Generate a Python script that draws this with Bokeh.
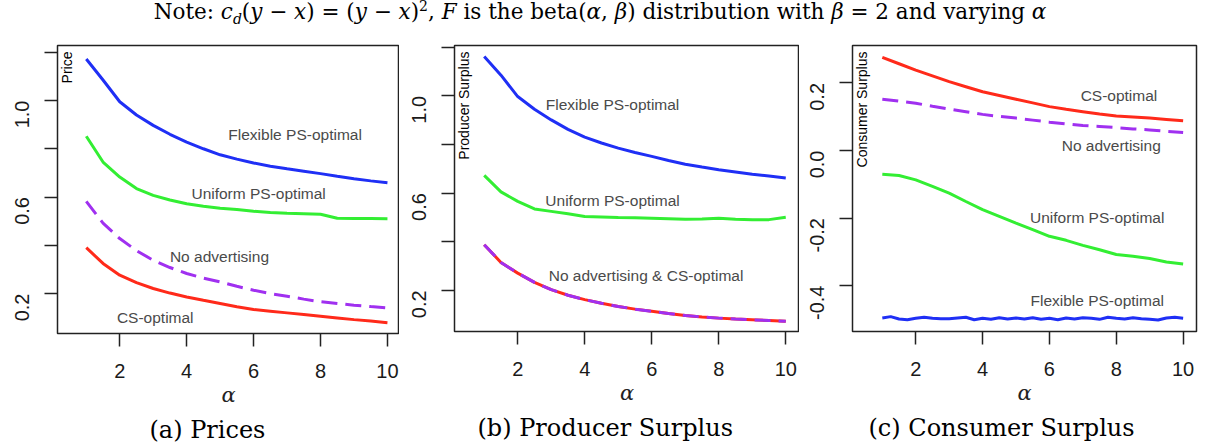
import math
from bokeh.plotting import figure
from bokeh.layouts import row, column
from bokeh.models import Div, FixedTicker, Label, Title
from bokeh.core.properties import value
from bokeh.embed import file_html
from bokeh.resources import INLINE

# ---------------- data ----------------
alpha = [1, 1.5, 2, 2.5, 3, 3.5, 4, 4.5, 5, 5.5, 6, 6.5, 7, 7.5, 8, 8.5, 9, 9.5, 10]

# (a) Prices
price_flex = [1.172, 1.085, 0.995, 0.940, 0.897, 0.860, 0.828, 0.800, 0.775, 0.757,
              0.741, 0.728, 0.717, 0.707, 0.697, 0.686, 0.676, 0.667, 0.659]
price_unif = [0.852, 0.745, 0.683, 0.635, 0.607, 0.588, 0.572, 0.562, 0.554, 0.548,
              0.541, 0.536, 0.533, 0.531, 0.529, 0.512, 0.511, 0.511, 0.510]
price_noad = [0.582, 0.492, 0.428, 0.378, 0.338, 0.308, 0.283, 0.264, 0.248, 0.230,
              0.214, 0.200, 0.189, 0.177, 0.166, 0.159, 0.152, 0.146, 0.141]
price_cs = [0.390, 0.325, 0.276, 0.245, 0.221, 0.202, 0.186, 0.172, 0.159, 0.145,
            0.134, 0.127, 0.120, 0.113, 0.106, 0.099, 0.092, 0.086, 0.079]

# (b) Producer surplus
ps_flex = [1.162, 1.085, 0.997, 0.945, 0.901, 0.862, 0.830, 0.806, 0.785, 0.767,
           0.751, 0.734, 0.719, 0.707, 0.696, 0.687, 0.678, 0.670, 0.662]
ps_unif = [0.673, 0.605, 0.566, 0.535, 0.525, 0.515, 0.504, 0.502, 0.500, 0.499,
           0.497, 0.495, 0.493, 0.494, 0.497, 0.493, 0.490, 0.491, 0.501]
ps_noad_cs = [0.388, 0.315, 0.271, 0.233, 0.203, 0.180, 0.162, 0.147, 0.134, 0.123,
              0.114, 0.105, 0.097, 0.091, 0.086, 0.082, 0.079, 0.076, 0.073]

# (c) Consumer surplus
cs_cs = [0.276, 0.257, 0.238, 0.221, 0.204, 0.189, 0.174, 0.163, 0.152, 0.141,
         0.130, 0.122, 0.115, 0.108, 0.102, 0.099, 0.096, 0.092, 0.088]
cs_noad = [0.152, 0.146, 0.140, 0.131, 0.123, 0.115, 0.107, 0.101, 0.096, 0.090,
           0.084, 0.079, 0.074, 0.071, 0.068, 0.064, 0.061, 0.057, 0.053]
cs_unif = [-0.070, -0.074, -0.087, -0.106, -0.126, -0.151, -0.175, -0.195, -0.215, -0.234,
           -0.254, -0.266, -0.281, -0.294, -0.308, -0.313, -0.320, -0.330, -0.336]
alpha_fine = [1, 1.25, 1.5, 1.75, 2, 2.25, 2.5, 2.75, 3, 3.25, 3.5, 3.75, 4, 4.25, 4.5,
              4.75, 5, 5.25, 5.5, 5.75, 6, 6.25, 6.5, 6.75, 7, 7.25, 7.5, 7.75, 8, 8.25,
              8.5, 8.75, 9, 9.25, 9.5, 9.75, 10]
cs_flex = [-0.496, -0.492, -0.499, -0.501, -0.497, -0.494, -0.497, -0.498, -0.498, -0.496,
           -0.494, -0.501, -0.497, -0.500, -0.495, -0.499, -0.496, -0.499, -0.495, -0.500,
           -0.497, -0.501, -0.496, -0.499, -0.495, -0.497, -0.500, -0.494, -0.497, -0.499,
           -0.495, -0.498, -0.500, -0.502, -0.496, -0.494, -0.497]

x_ticks = [2, 4, 6, 8, 10]
ab_y_ticks = [0.2, 0.4, 0.6, 0.8, 1.0, 1.2]
ab_y_labels = {0.2: "0.2", 0.4: "", 0.6: "0.6", 0.8: "", 1.0: "1.0", 1.2: ""}
c_y_ticks = [-0.4, -0.2, 0.0, 0.2]
c_y_labels = {-0.4: "-0.4", -0.2: "-0.2", 0.0: "0.0", 0.2: "0.2"}

BLUE = "#1f2ff5"
GREEN = "#33ee33"
RED = "#ff2a1a"
PURPLE = "#a030f0"
LABEL_GRAY = "#4a4a4a"
SANS = "Liberation Sans"
SERIF = "DejaVu Serif"


def make_panel(xr, yr, fw, fh, bl, br, bt, yticks, ylabels, ylab, caption, cap_off):
    p = figure(frame_width=fw, frame_height=fh, x_range=xr, y_range=yr,
               output_backend="svg", toolbar_location=None, title=None,
               min_border_left=bl, min_border_right=br, min_border_top=bt,
               min_border_bottom=0)
    p.grid.visible = False
    p.outline_line_color = "#222222"
    p.outline_line_width = 1.5
    p.background_fill_color = "white"
    p.border_fill_color = "white"
    for ax in (p.xaxis[0], p.yaxis[0]):
        ax.axis_line_color = None
        ax.major_tick_out = 13
        ax.major_tick_in = 0
        ax.minor_tick_line_color = None
        ax.major_tick_line_color = "#222222"
        ax.major_tick_line_width = 1.5
        ax.major_label_text_font = SANS
        ax.major_label_text_font_size = "20px"
        ax.major_label_text_color = "#1a1a1a"
    p.xaxis[0].ticker = FixedTicker(ticks=x_ticks)
    p.xaxis[0].major_label_standoff = 17
    p.xaxis[0].axis_label = "α"
    p.xaxis[0].axis_label_text_font = SERIF
    p.xaxis[0].axis_label_text_font_style = "italic"
    p.xaxis[0].axis_label_text_font_size = "21px"
    p.xaxis[0].axis_label_text_color = "#222222"
    p.xaxis[0].axis_label_standoff = 2
    p.yaxis[0].ticker = FixedTicker(ticks=yticks)
    p.yaxis[0].major_label_overrides = ylabels
    p.yaxis[0].major_label_orientation = math.pi / 2
    p.yaxis[0].major_label_standoff = 22
    p.add_layout(Label(x=xr[0], y=yr[1], x_offset=1, y_offset=-6, text=ylab,
                       angle=math.pi / 2, text_align="right", text_baseline="top",
                       text_font=SANS, text_font_size="14px", text_color="black"))
    p.add_layout(Title(text=caption, align="left", offset=cap_off, standoff=9,
                       text_font=SERIF, text_font_size="24px",
                       text_font_style="normal", text_color="black"), "below")
    return p


def curve_label(p, x, y, txt):
    p.text(x=[x], y=[y], text=[txt], text_align="center", text_baseline="middle",
           text_font=value(SANS), text_font_size="15.5px", text_color=LABEL_GRAY)


# (a)
pa = make_panel((0.14, 10.36), (0.0345, 1.228), 342, 288, 57, 0, 8,
                ab_y_ticks, ab_y_labels, "Price", "(a) Prices", 92)
pa.line(alpha, price_flex, line_color=BLUE, line_width=3)
pa.line(alpha, price_unif, line_color=GREEN, line_width=3)
pa.line(alpha, price_noad, line_color=PURPLE, line_width=3, line_dash="16 8")
pa.line(alpha, price_cs, line_color=RED, line_width=3)
curve_label(pa, 7.24, 0.858, "Flexible PS-optimal")
curve_label(pa, 6.15, 0.614, "Uniform PS-optimal")
curve_label(pa, 4.98, 0.354, "No advertising")
curve_label(pa, 3.06, 0.099, "CS-optimal")

# (b)
pb = make_panel((0.113, 10.41), (0.031, 1.207), 345, 286, 55, 0, 10,
                ab_y_ticks, ab_y_labels, "Producer Surplus", "(b) Producer Surplus", 23)
pb.line(alpha, ps_flex, line_color=BLUE, line_width=3)
pb.line(alpha, ps_unif, line_color=GREEN, line_width=3)
pb.line(alpha, ps_noad_cs, line_color=RED, line_width=3)
pb.line(alpha, ps_noad_cs, line_color=PURPLE, line_width=3, line_dash="16 8")
curve_label(pb, 4.83, 0.966, "Flexible PS-optimal")
curve_label(pb, 4.83, 0.570, "Uniform PS-optimal")
curve_label(pb, 5.83, 0.262, "No advertising & CS-optimal")

# (c)
pc = make_panel((0.108, 10.40), (-0.536, 0.311), 344, 286, 53, 5, 10,
                c_y_ticks, c_y_labels, "Consumer Surplus", "(c) Consumer Surplus", 16)
pc.line(alpha, cs_cs, line_color=RED, line_width=3)
pc.line(alpha, cs_noad, line_color=PURPLE, line_width=3, line_dash="16 8")
pc.line(alpha, cs_unif, line_color=GREEN, line_width=3)
pc.line(alpha_fine, cs_flex, line_color=BLUE, line_width=3)
curve_label(pc, 8.08, 0.163, "CS-optimal")
curve_label(pc, 7.85, 0.015, "No advertising")
curve_label(pc, 7.43, -0.197, "Uniform PS-optimal")
curve_label(pc, 7.43, -0.443, "Flexible PS-optimal")

title_html = ("Note: <i>c<sub style='font-size:14px;line-height:0'>d</sub></i>(<i>y</i> − <i>x</i>) = "
              "(<i>y</i> − <i>x</i>)<sup style='font-size:14px;line-height:0'>2</sup>, <i>F</i> is the "
              "beta(<i>α</i>, <i>β</i>) distribution with <i>β</i> = 2 and varying <i>α</i>")
title = Div(text=title_html, width=1200, height=35, margin=(0, 0, 0, 0),
            styles={"text-align": "center", "font-family": SERIF, "font-size": "21.5px",
                    "line-height": "24px", "color": "black", "width": "1200px"})

layout = column(title, row(pa, pb, pc, spacing=0), spacing=0)
open("out.html", "w").write(file_html(layout, INLINE))
